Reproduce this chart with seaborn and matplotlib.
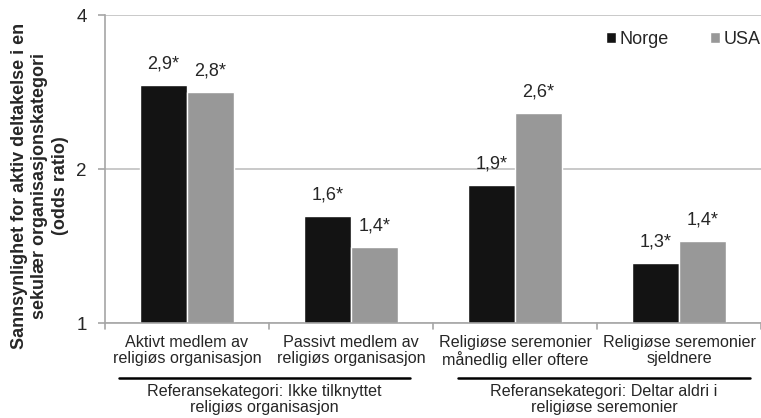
import numpy as np
import pandas as pd
import matplotlib
matplotlib.use('Agg')
import matplotlib.pyplot as plt
import seaborn as sns

sns.set_style('white')
plt.rcParams['font.family'] = ['Liberation Sans', 'DejaVu Sans']

# data
categories = ['Aktivt medlem av\nreligiøs organisasjon',
              'Passivt medlem av\nreligiøs organisasjon',
              'Religiøse seremonier\nmånedlig eller oftere',
              'Religiøse seremonier\nsjeldnere']
norge = [2.92, 1.62, 1.86, 1.31]
usa = [2.83, 1.41, 2.57, 1.45]
norge_labels = ['2,9*', '1,6*', '1,9*', '1,3*']
usa_labels = ['2,8*', '1,4*', '2,6*', '1,4*']
groups = ['Referansekategori: Ikke tilknyttet\nreligiøs organisasjon',
          'Referansekategori: Deltar aldri i\nreligiøse seremonier']

df = pd.DataFrame({
    'kategori': categories * 2,
    'land': ['Norge'] * 4 + ['USA'] * 4,
    'odds': norge + usa,
})

fig = plt.figure(figsize=(7.61, 4.18), dpi=100)
ax = fig.add_axes([0.138, 0.227, 0.862, 0.737])

sns.barplot(data=df, x='kategori', y='odds', hue='land',
            palette={'Norge': '#131313', 'USA': '#989898'},
            width=0.57, gap=0, saturation=1, ax=ax, legend=True)

ax.set_yscale('log', base=2)
ax.set_ylim(1, 4)
ax.set_yticks([1, 2, 4])
ax.set_yticklabels(['1', '2', '4'], fontsize=13.5)
ax.yaxis.set_minor_locator(matplotlib.ticker.NullLocator())
ax.set_xlim(-0.5, 3.5)
ax.grid(axis='y', color='#c0c0c0', linewidth=1.2)
ax.set_axisbelow(True)

for s in ['top', 'right']:
    ax.spines[s].set_visible(False)
for s in ['left', 'bottom']:
    ax.spines[s].set_color('#a6a6a6')
    ax.spines[s].set_linewidth(1.2)

ax.tick_params(axis='y', length=5, width=1.2, color='#a6a6a6', direction='out', left=True, pad=8)
ax.set_xticks([0, 1, 2, 3])
ax.set_xticklabels(categories, fontsize=11.6, linespacing=1.05)
ax.tick_params(axis='x', length=0, pad=8.5)
# tick marks between categories
for xb in [-0.5, 0.5, 1.5, 2.5, 3.5]:
    ax.plot([xb, xb], [0, -0.018], color='#a6a6a6', lw=1.2,
            transform=ax.get_xaxis_transform(), clip_on=False)

ax.set_xlabel('')
ax.set_ylabel('')
fig.text(40 / 761, 1 - 186 / 418,
         'Sannsynlighet for aktiv deltakelse i en\nsekulær organisasjonskategori\n(odds ratio)',
         rotation=90, ha='center', va='center', fontsize=13, fontweight='bold',
         linespacing=1.28)

# bar value labels
for cont, labs in zip(ax.containers, [norge_labels, usa_labels]):
    for bar, lab in zip(cont, labs):
        ax.annotate(lab, (bar.get_x() + bar.get_width() / 2, bar.get_height()),
                    xytext=(0, 9), textcoords='offset points',
                    ha='center', va='bottom', fontsize=13)

# group lines and labels
tr = ax.get_xaxis_transform()
for (x0, x1), g in zip([(-0.415, 1.36), (1.655, 3.43)], groups):
    ax.plot([x0, x1], [-0.179, -0.179], color='black', lw=1.8,
            transform=tr, clip_on=False)
    ax.text((x0 + x1) / 2, -0.198, g, transform=tr, ha='center', va='top',
            fontsize=11.6, linespacing=1.05)

leg = ax.legend(loc='center right', bbox_to_anchor=(1.0, 0.92), ncol=2,
                frameon=False, fontsize=13, handlelength=0.55, handleheight=0.55,
                handletextpad=0.2, columnspacing=2.3, borderaxespad=0, borderpad=0)

fig.savefig('out.png', dpi=100)
